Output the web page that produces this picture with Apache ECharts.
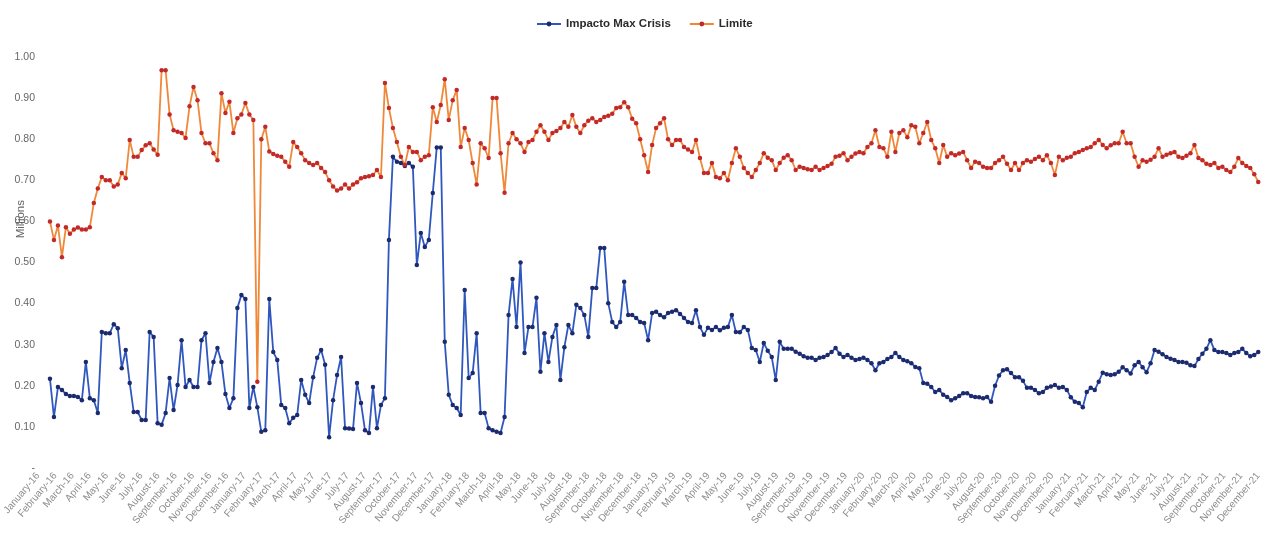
<!DOCTYPE html>
<html>
<head>
<meta charset="utf-8">
<script src="https://cdn.jsdelivr.net/npm/echarts@6/dist/echarts.min.js"></script>
<style>
html,body{margin:0;padding:0;background:#fff;}
#chart{width:1264px;height:537px;}
</style>
</head>
<body>
<div id="chart"></div>
<script>
// Month tick labels
const monthNames = ['January','February','March','April','May','June','July','August','September','October','November','December'];
const years = ['16','17','18','19','20','21'];
const monthLabels = [];
years.forEach(y => monthNames.forEach(m => monthLabels.push(m + '-' + y)));

// Weekly values (millions)
const impactoMaxCrisis = [
 .217,.124,.197,.19,.18,.175,.175,.173,.165,.258,
 .17,.165,.134,.331,.328,.328,.35,.34,.243,.287,
 .207,.136,.136,.117,.117,.331,.319,.109,.105,.134,
 .219,.141,.202,.311,.197,.214,.197,.197,.311,.328,
 .207,.258,.292,.258,.18,.146,.17,.389,.421,.411,
 .146,.197,.148,.088,.092,.411,.282,.263,.153,.146,
 .109,.122,.129,.214,.178,.158,.221,.268,.287,.251,
 .075,.165,.226,.27,.097,.096,.095,.207,.158,.092,
 .085,.197,.097,.153,.17,.555,.757,.745,.742,.735,
 .742,.733,.494,.572,.538,.555,.669,.78,.78,.307,
 .178,.153,.146,.129,.433,.219,.231,.328,.134,.134,
 .097,.092,.088,.085,.124,.372,.46,.343,.50,.28,
 .343,.343,.414,.234,.328,.258,.319,.348,.214,.294,
 .348,.328,.397,.389,.372,.319,.438,.438,.535,.535,
 .401,.355,.343,.355,.453,.372,.372,.365,.355,.353,
 .311,.377,.38,.372,.367,.377,.38,.384,.375,.365,
 .355,.353,.384,.343,.324,.341,.336,.343,.335,.341,
 .343,.372,.331,.33,.343,.336,.292,.287,.258,.304,
 .285,.27,.214,.307,.29,.29,.29,.283,.278,.272,
 .268,.268,.263,.268,.27,.275,.282,.292,.278,.27,
 .275,.268,.263,.265,.268,.263,.255,.238,.255,.258,
 .265,.27,.28,.27,.263,.26,.255,.246,.243,.207,
 .205,.197,.185,.19,.178,.173,.165,.17,.175,.182,
 .182,.175,.173,.172,.17,.173,.161,.2,.225,.238,
 .24,.231,.221,.221,.212,.195,.195,.19,.182,.185,
 .195,.198,.202,.195,.197,.19,.172,.161,.158,.148,
 .185,.195,.19,.21,.232,.228,.226,.228,.234,.245,
 .238,.23,.25,.258,.245,.233,.255,.287,.283,.277,
 .27,.266,.263,.258,.258,.256,.25,.248,.265,.278,
 .29,.311,.287,.282,.282,.28,.275,.28,.282,.29,
 .28,.272,.275,.282
];
const limite = [
 .60,.555,.59,.513,.586,.57,.58,.585,.58,.58,
 .586,.645,.68,.708,.70,.70,.685,.69,.718,.705,
 .798,.757,.757,.774,.785,.79,.775,.762,.968,.968,
 .86,.822,.818,.815,.803,.88,.927,.895,.815,.79,
 .79,.766,.749,.912,.864,.891,.815,.851,.86,.888,
 .86,.847,.21,.80,.83,.77,.764,.76,.757,.745,
 .733,.793,.781,.766,.749,.742,.737,.742,.73,.72,
 .70,.685,.675,.68,.69,.68,.69,.695,.705,.708,
 .71,.713,.725,.708,.937,.876,.827,.793,.757,.737,
 .781,.769,.769,.749,.757,.761,.878,.842,.883,.946,
 .847,.895,.92,.781,.827,.798,.742,.69,.79,.778,
 .754,.90,.90,.766,.67,.79,.815,.80,.79,.769,
 .793,.798,.818,.834,.818,.798,.815,.82,.827,.842,
 .83,.859,.83,.815,.834,.845,.851,.842,.847,.854,
 .857,.862,.876,.878,.89,.878,.85,.839,.80,.761,
 .72,.786,.827,.839,.851,.80,.786,.798,.798,.781,
 .775,.769,.798,.754,.718,.718,.742,.708,.705,.718,
 .70,.742,.778,.757,.73,.718,.708,.725,.742,.766,
 .755,.749,.725,.742,.755,.761,.749,.725,.733,.73,
 .727,.725,.733,.725,.73,.735,.74,.757,.76,.766,
 .749,.757,.765,.769,.766,.781,.79,.822,.781,.778,
 .757,.818,.769,.815,.822,.805,.834,.83,.79,.815,
 .842,.798,.778,.742,.786,.757,.766,.761,.765,.769,
 .749,.73,.745,.742,.733,.73,.73,.742,.749,.757,
 .74,.725,.742,.725,.742,.749,.745,.752,.757,.749,
 .761,.742,.713,.757,.749,.755,.757,.766,.769,.774,
 .778,.781,.79,.798,.786,.778,.785,.79,.79,.818,
 .79,.79,.757,.733,.749,.745,.75,.757,.778,.757,
 .762,.766,.769,.757,.754,.76,.766,.786,.754,.749,
 .74,.737,.742,.73,.733,.725,.72,.733,.754,.742,
 .735,.73,.715,.696
];

const weekIdx = impactoMaxCrisis.map((_, i) => i);
const blueData = impactoMaxCrisis.map((v, i) => [weekIdx[i], v]);
const redData = limite.map((v, i) => [weekIdx[i], v]);
const FONT = '"Liberation Sans", Arial, sans-serif';

const chart = echarts.init(document.getElementById('chart'), null, {renderer: 'canvas'});
chart.setOption({
  animation: false,
  backgroundColor: '#ffffff',
  textStyle: {fontFamily: FONT},
  legend: {
    top: 13, left: 531,
    itemWidth: 24, itemHeight: 6, itemGap: 18,
    textStyle: {fontFamily: FONT, fontSize: 11.5, fontWeight: 'bold', color: '#2b2b2b'},
    data: ['Impacto Max Crisis', 'Limite']
  },
  grid: {left: 38, right: 2, top: 57, bottom: 69, containLabel: false},
  xAxis: [
    {
      type: 'category', data: monthLabels, boundaryGap: false,
      axisLine: {show: false}, axisTick: {show: false}, splitLine: {show: false},
      axisLabel: {rotate: 50, interval: 0, margin: 6, fontSize: 10, color: '#8c8c8c', fontFamily: FONT}
    },
    {
      type: 'value', min: -3, max: impactoMaxCrisis.length - 1, show: false
    }
  ],
  yAxis: {
    type: 'value', min: 0, max: 1, interval: 0.1,
    axisLine: {show: false}, axisTick: {show: false}, splitLine: {show: false},
    axisLabel: {
      margin: 3, fontSize: 10.5, color: '#666666', fontFamily: FONT,
      formatter: v => (Math.abs(v) < 1e-9 ? '-' : v.toFixed(2))
    }
  },
  graphic: [{
    type: 'text', left: 15, top: 200, rotation: Math.PI / 2,
    style: {text: 'Millions', fontSize: 11.5, fontFamily: FONT, fill: '#666666'}
  }],
  series: [
    {
      name: 'Impacto Max Crisis', type: 'line', xAxisIndex: 1, data: blueData,
      symbol: 'circle', symbolSize: 4.5, showAllSymbol: true,
      lineStyle: {color: '#2F57BE', width: 1.8},
      itemStyle: {color: '#1C2A6E'}
    },
    {
      name: 'Limite', type: 'line', xAxisIndex: 1, data: redData,
      symbol: 'circle', symbolSize: 4.5, showAllSymbol: true,
      lineStyle: {color: '#F0883A', width: 1.8},
      itemStyle: {color: '#C22A2A'}
    }
  ]
});
</script>
</body>
</html>
